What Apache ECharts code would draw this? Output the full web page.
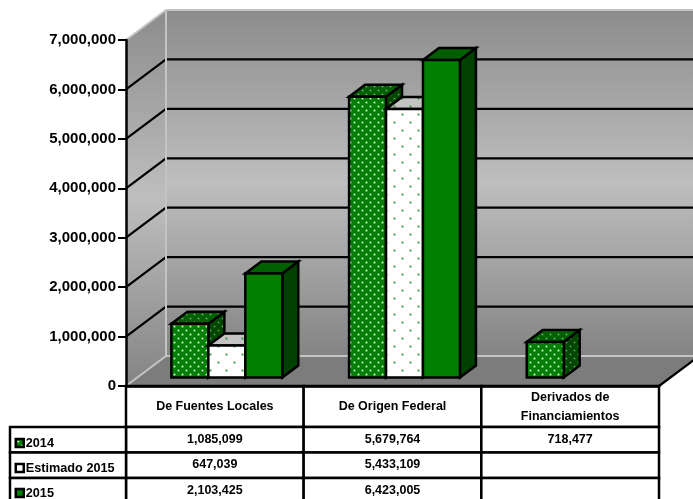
<!DOCTYPE html>
<html>
<head>
<meta charset="utf-8">
<style>html,body{margin:0;padding:0;background:#fff}#chart{width:693px;height:499px}</style>
<script src="https://cdn.jsdelivr.net/npm/echarts@6/dist/echarts.min.js"></script>
</head>
<body>
<div id="chart"></div>
<script>
// datos
const categories = ['De Fuentes Locales', 'De Origen Federal', 'Derivados de\nFinanciamientos'];
const seriesNames = ['2014', 'Estimado 2015', '2015'];
const values2014 = [1085099, 5679764, 718477];
const valuesEstimado = [647039, 5433109, null];
const values2015 = [2103425, 6423005, null];
const gridTicks = [1000000, 2000000, 3000000, 4000000, 5000000, 6000000];

const FONT = '"Liberation Sans", Arial, sans-serif';
const WALL_DX = 40, WALL_DY = -30;   // fondo del grafico
const BAR_SHIFT_X = 12, BAR_SHIFT_Y = -8.5;
const DEPTH_DX = 16, DEPTH_DY = -12;
const BAR_RATIO = 0.208;
const ROW_HEIGHTS = [41, 25.5, 25.5, 25.5];
const LEGEND_COL = 116;
const LEGEND_TOPS = [436.5, 461.5, 486.5];

function dots(bg, dot, size, halo) {
  const c = document.createElement('canvas');
  c.width = c.height = size;
  const ctx = c.getContext('2d');
  ctx.fillStyle = bg;
  ctx.fillRect(0, 0, size, size);
  [[2, 2], [2 + size / 2, 2 + size / 2]].forEach(p => {
    ctx.fillStyle = halo;
    ctx.beginPath();
    ctx.arc(p[0] + 0.5, p[1] + 0.5, 1.5, 0, Math.PI * 2);
    ctx.fill();
    ctx.fillStyle = dot;
    ctx.fillRect(p[0], p[1], 1, 1);
  });
  return { image: c, repeat: 'repeat' };
}

const faces = [
  { front: dots('#008000', '#ffffff', 8, 'rgba(255,255,255,0.3)'), top: dots('#006000', '#90c090', 8, 'rgba(255,255,255,0.12)'), side: dots('#004800', '#80b080', 8, 'rgba(255,255,255,0.1)') },
  { front: dots('#ffffff', '#1c9a3c', 16, 'rgba(0,128,0,0.35)'), top: dots('#c4c4c4', '#1c9a3c', 16, 'rgba(0,128,0,0.35)'), side: dots('#c4c4c4', '#1c9a3c', 16, 'rgba(0,128,0,0.35)') },
  { front: '#008000', top: '#006000', side: '#004000' }
];
const barData = [values2014, valuesEstimado, values2015];

function renderBar(serie) {
  return function (params, api) {
    const idx = api.value(0), val = api.value(1);
    if (val == null || isNaN(val)) return;
    const band = api.size([1, 0])[0];
    const w = band * BAR_RATIO;
    const base = api.coord([idx, 0]);
    const top = api.coord([idx, val]);
    // solo Derivados tiene una barra, igual queda en la primera posicion
    const x0 = base[0] + BAR_SHIFT_X + (serie - 1.5) * w;
    const x1 = x0 + w;
    const y0 = base[1] + BAR_SHIFT_Y;
    const y1 = top[1] + BAR_SHIFT_Y;
    const line = { stroke: '#000', lineWidth: 2.5, lineJoin: 'miter' };
    const f = faces[serie];
    return {
      type: 'group',
      children: [
        { type: 'polygon', shape: { points: [[x1, y0], [x1 + DEPTH_DX, y0 + DEPTH_DY], [x1 + DEPTH_DX, y1 + DEPTH_DY], [x1, y1]] }, style: Object.assign({ fill: f.side }, line) },
        { type: 'polygon', shape: { points: [[x0, y1], [x1, y1], [x1 + DEPTH_DX, y1 + DEPTH_DY], [x0 + DEPTH_DX, y1 + DEPTH_DY]] }, style: Object.assign({ fill: f.top }, line) },
        { type: 'polygon', shape: { points: [[x0, y0], [x1, y0], [x1, y1], [x0, y1]] }, style: Object.assign({ fill: f.front }, line) }
      ]
    };
  };
}

function wallGradient() {
  return new echarts.graphic.LinearGradient(0, 0, 0, 1, [
    { offset: 0, color: '#8c8c8c' },
    { offset: 0.5, color: '#bebebe' },
    { offset: 1, color: '#848484' }
  ]);
}

function renderWalls(params, api) {
  const b = api.coord([0, 0]);
  const band = api.size([1, 0])[0];
  const t = api.coord([0, 7000000]);
  const xl = b[0] - band / 2, xr = xl + band * categories.length, yb = b[1], yt = t[1];
  const d = (x, y) => [x + WALL_DX, y + WALL_DY];
  return {
    type: 'group',
    children: [
      { type: 'polygon', shape: { points: [[xl, yb], d(xl, yb), d(xl, yt), [xl, yt]] }, style: { fill: wallGradient() } },
      { type: 'polygon', shape: { points: [d(xl, yb), d(xr, yb), d(xr, yt), d(xl, yt)] }, style: { fill: wallGradient() } },
      { type: 'polygon', shape: { points: [[xl, yb], [xr, yb], d(xr, yb), d(xl, yb)] }, style: { fill: '#7c7c7c' } }
    ]
  };
}

function renderGridLine(params, api) {
  const band = api.size([1, 0])[0];
  const p = api.coord([0, api.value(1)]);
  const xl = p[0] - band / 2, xr = xl + band * categories.length;
  return {
    type: 'polyline',
    shape: { points: [[xl, p[1]], [xl + WALL_DX, p[1] + WALL_DY], [xr + WALL_DX, p[1] + WALL_DY]] },
    style: { stroke: '#000', lineWidth: 2.2, fill: null }
  };
}

function renderEdges(params, api) {
  const b = api.coord([0, 0]);
  const band = api.size([1, 0])[0];
  const t = api.coord([0, 7000000]);
  const xl = b[0] - band / 2, xr = xl + band * categories.length;
  const st = { stroke: '#c4c4c4', lineWidth: 2, fill: null };
  return {
    type: 'group',
    children: [
      { type: 'polyline', shape: { points: [[xl, t[1]], [xl + WALL_DX, t[1] + WALL_DY], [xr + WALL_DX, t[1] + WALL_DY]] }, style: st },
      { type: 'line', shape: { x1: xl + WALL_DX, y1: t[1] + WALL_DY, x2: xl + WALL_DX, y2: b[1] + WALL_DY }, style: st },
      { type: 'polyline', shape: { points: [[xl, b[1]], [xl + WALL_DX, b[1] + WALL_DY], [xr + WALL_DX, b[1] + WALL_DY]] }, style: st },
      { type: 'line', shape: { x1: xr, y1: b[1], x2: xr + WALL_DX, y2: b[1] + WALL_DY }, style: { stroke: '#000', lineWidth: 2.2 } }
    ]
  };
}

function fmt(v) {
  return v == null ? '' : v.toLocaleString('en-US');
}

function renderTable(params, api) {
  const idx = api.value(0);
  const band = api.size([1, 0])[0];
  const b = api.coord([idx, 0]);
  const x0 = b[0] - band / 2, cx = b[0];
  const line = { stroke: '#000', lineWidth: 2.5, fill: '#fff' };
  const kids = [];
  let y = b[1];
  ROW_HEIGHTS.forEach((h, r) => {
    kids.push({ type: 'rect', shape: { x: x0, y: y, width: band, height: h }, style: line });
    if (r > 0 && idx === 0) {
      kids.push({ type: 'rect', shape: { x: x0 - LEGEND_COL, y: y, width: LEGEND_COL, height: h }, style: line });
    }
    const label = r === 0 ? categories[idx] : fmt(barData[r - 1][idx]);
    if (label) {
      kids.push({
        type: 'text',
        style: {
          text: label, x: cx, y: r === 0 ? y + h / 2 + 0.5 : y + h / 2 - 0.5,
          align: 'center', verticalAlign: 'middle',
          font: 'bold 12.5px ' + FONT, lineHeight: 18.5, fill: '#000'
        }
      });
    }
    y += h;
  });
  return { type: 'group', children: kids };
}

function barSeries(i) {
  return {
    name: seriesNames[i],
    type: 'custom',
    z: 5,
    renderItem: renderBar(i),
    encode: { x: 0, y: 1 },
    itemStyle: { color: i === 1 ? '#fff' : '#008000', borderColor: '#000', borderWidth: 2 },
    data: barData[i].map((v, c) => [c, v])
  };
}

// una leyenda por fila de la tabla
const legends = seriesNames.map((n, i) => ({
  z: 20,
  data: [{
    name: n,
    icon: 'rect',
    itemStyle: { color: i === 0 ? faces[0].front : (i === 1 ? '#fff' : '#008000'), borderColor: '#000', borderWidth: 2.5 }
  }],
  left: 14.5,
  top: LEGEND_TOPS[i],
  itemWidth: 8,
  itemHeight: 8,
  padding: 0,
  selectedMode: false,
  textStyle: { color: '#000', fontFamily: FONT, fontWeight: 'bold', fontSize: 12.7, padding: [1, 0, 0, -3] }
}));

const chart = echarts.init(document.getElementById('chart'));
chart.setOption({
  animation: false,
  backgroundColor: '#fff',
  grid: { left: 126, top: 40, width: 533, height: 346, containLabel: false },
  xAxis: {
    type: 'category',
    data: categories,
    z: 10,
    axisLine: { lineStyle: { color: '#000', width: 2.5 } },
    axisTick: { show: false },
    axisLabel: { show: false }
  },
  yAxis: {
    type: 'value',
    min: 0,
    max: 7000000,
    interval: 1000000,
    z: 10,
    axisLine: { show: true, lineStyle: { color: '#000', width: 2.5 } },
    axisTick: { show: true, length: 8, lineStyle: { color: '#000', width: 2 } },
    splitLine: { show: false },
    axisLabel: {
      margin: 10,
      color: '#000',
      fontFamily: FONT,
      fontWeight: 'bold',
      fontSize: 15,
      formatter: v => v.toLocaleString('en-US')
    }
  },
  legend: legends,
  series: [
    { type: 'custom', z: 1, silent: true, renderItem: renderWalls, encode: { x: 0, y: 1 }, data: [[0, 0]] },
    { type: 'custom', z: 2, silent: true, renderItem: renderGridLine, encode: { x: 0, y: 1 }, data: gridTicks.map(v => [0, v]) },
    { type: 'custom', z: 3, silent: true, renderItem: renderEdges, encode: { x: 0, y: 1 }, data: [[0, 0]] },
    barSeries(0),
    barSeries(1),
    barSeries(2),
    { type: 'custom', z: 4, silent: true, renderItem: renderTable, encode: { x: 0, y: 1 }, data: categories.map((c, i) => [i, 0]) }
  ]
});
</script>
</body>
</html>
